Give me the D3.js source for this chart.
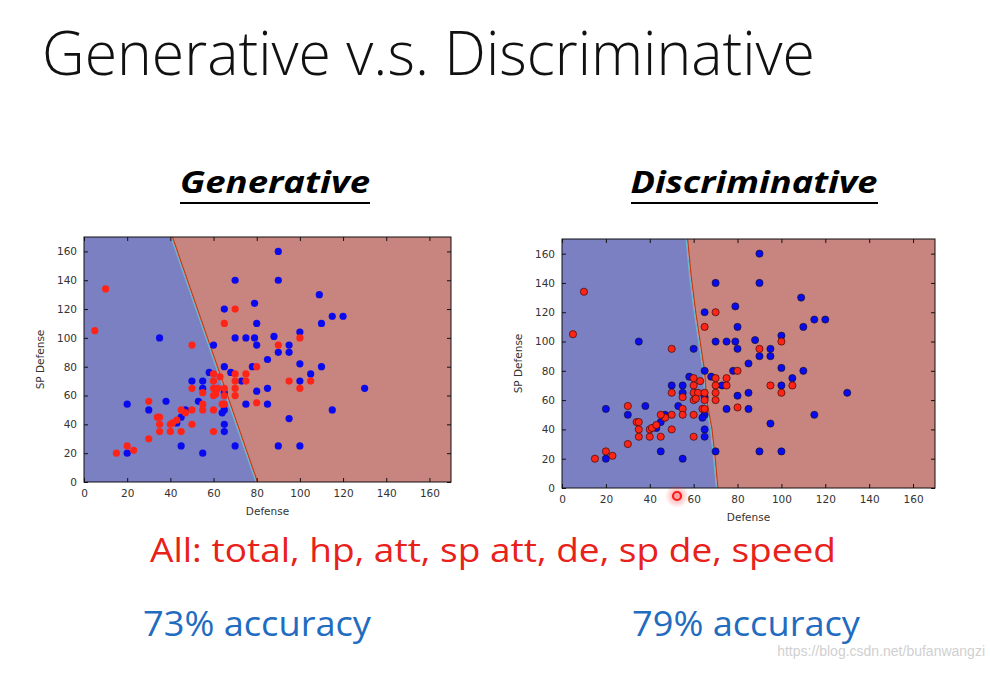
<!DOCTYPE html>
<html><head><meta charset="utf-8">
<script src="https://cdn.jsdelivr.net/npm/d3@7/dist/d3.min.js"></script>
<style>body{margin:0;background:#fff}svg{display:block}</style>
</head><body>
<svg id="c" width="990" height="673"></svg>
<script>
// ---- data ----
const tickValues = [0, 20, 40, 60, 80, 100, 120, 140, 160];
const redDefense =   [10,5,50,65,70,60,63,70,75,75,70,70,70,60,60,62,65,60,61,55,50,65,64,65,55,55,60,50,47,45,50,60,45,40,35,35,34,35,40,41,43,30,30,20,23,15,80,80,100,90,95,105,100];
const redSpDefense = [134,105,95,110,120,75,73,75,75,70,70,65,60,70,65,65,65,60,61,62,65,60,54,54,54,50,50,50,48,50,40,35,35,35,35,40,45,45,40,41,43,56,30,25,22,20,80,55,100,95,70,70,65];
const blueDefense =   [90,70,90,109,79,115,120,80,110,100,70,75,79,88,80,95,90,95,85,78,100,110,105,58,68,73,100,85,130,80,75,85,115,95,70,90,100,65,35,60,65,50,55,55,65,53,38,20,30,47,45,43,65,64,65,65,45,55,20];
const blueSpDefense = [160,140,140,130,124,115,115,110,110,104,100,100,100,101,95,95,90,90,85,80,82,80,75,76,76,70,70,65,65,63,54,54,50,44,25,25,25,120,100,95,80,70,70,65,62,56,56,54,50,50,45,41,50,48,40,35,25,20,20];
const genBoundaryDefense =   [40.6, 80];
const genBoundarySpDefense = [170, 0];
const discBoundaryDefense =   [56.9, 58.5, 60.6, 62.6, 64.6, 65.6, 68, 69.5, 70.7];
const discBoundarySpDefense = [170, 145, 120, 100, 80, 60, 40, 20, 0];
const panelTitles = ["Generative", "Discriminative"];
const accuracies = ["73% accuracy", "79% accuracy"];

const svg = d3.select("#c");
svg.append("rect").attr("width",990).attr("height",673).attr("fill","#fff");

// main title
svg.append("text").attr("x",42).attr("y",75)
  .attr("font-family","'Open Sans', sans-serif").attr("font-weight",300)
  .attr("font-size",60).attr("fill","#111")
  .attr("textLength",773).attr("lengthAdjust","spacingAndGlyphs")
  .text("Generative v.s. Discriminative");

const panels = [
  {x0:84, x1:451, y0:482, y1:237, title:panelTitles[0], tx:275, tw:190, ul:[180,370], bx:genBoundaryDefense, by:genBoundarySpDefense, edge:false, acc:accuracies[0], ax:143, aw:228},
  {x0:562, x1:935, y0:488, y1:239, title:panelTitles[1], tx:754, tw:247, ul:[631,878], bx:discBoundaryDefense, by:discBoundarySpDefense, edge:true, acc:accuracies[1], ax:632, aw:228}
];

panels.forEach((p,i) => {
  const x = d3.scaleLinear().domain([0,170]).range([p.x0,p.x1]);
  const y = d3.scaleLinear().domain([0,170]).range([p.y0,p.y1]);
  const g = svg.append("g");

  // panel title
  g.append("text").attr("x",p.tx).attr("y",193).attr("text-anchor","middle")
    .attr("font-family","'Open Sans', sans-serif").attr("font-weight",700).attr("font-style","italic")
    .attr("font-size",31).attr("fill","#000")
    .attr("textLength",p.tw).attr("lengthAdjust","spacingAndGlyphs").text(p.title);
  g.append("line").attr("x1",p.ul[0]).attr("x2",p.ul[1]).attr("y1",203).attr("y2",203)
    .attr("stroke","#000").attr("stroke-width",2.2);

  // regions
  const bpts = p.bx.map((d,k)=>[x(d), y(p.by[k])]);
  const blue = [[x(0),y(170)], ...bpts, [x(0),y(0)]];
  const red = [...bpts, [x(170),y(0)], [x(170),y(170)]];
  g.append("path").attr("d", d3.line()(blue)+"Z").attr("fill","#7b80c3");
  g.append("path").attr("d", d3.line()(red)+"Z").attr("fill","#c8847f");
  // boundary contour lines
  g.append("path").attr("d", d3.line()(bpts.map(q=>[q[0]-0.8,q[1]]))).attr("fill","none").attr("stroke","#5fc8d0").attr("stroke-width",0.9);
  g.append("path").attr("d", d3.line()(bpts.map(q=>[q[0]+0.8,q[1]]))).attr("fill","none").attr("stroke","#c23a10").attr("stroke-width",1.1);

  // points
  const pts = g.append("g");
  blueDefense.forEach((d,k)=>{
    pts.append("circle").attr("cx",x(d)).attr("cy",y(blueSpDefense[k])).attr("r",3.6)
      .attr("fill","#0a0aee").attr("stroke",p.edge?"#111":"none").attr("stroke-width",0.6);
  });
  redDefense.forEach((d,k)=>{
    pts.append("circle").attr("cx",x(d)).attr("cy",y(redSpDefense[k])).attr("r",3.6)
      .attr("fill","#ff2418").attr("stroke",p.edge?"#3a0a05":"none").attr("stroke-width",0.7);
  });

  // frame
  g.append("rect").attr("x",p.x0).attr("y",p.y1).attr("width",p.x1-p.x0).attr("height",p.y0-p.y1)
    .attr("fill","none").attr("stroke","#111").attr("stroke-width",1);

  // axes with inward ticks on all sides
  const fs = 10.5;
  const axB = g.append("g").attr("transform",`translate(0,${p.y0})`)
    .call(d3.axisBottom(x).tickValues(tickValues).tickSizeInner(-4).tickSizeOuter(0).tickPadding(8));
  const axL = g.append("g").attr("transform",`translate(${p.x0},0)`)
    .call(d3.axisLeft(y).tickValues(tickValues).tickSizeInner(-4).tickSizeOuter(0).tickPadding(7));
  const axT = g.append("g").attr("transform",`translate(0,${p.y1})`)
    .call(d3.axisTop(x).tickValues(tickValues).tickSizeInner(-4).tickSizeOuter(0).tickFormat(""));
  const axR = g.append("g").attr("transform",`translate(${p.x1},0)`)
    .call(d3.axisRight(y).tickValues(tickValues).tickSizeInner(-4).tickSizeOuter(0).tickFormat(""));
  [axB,axL,axT,axR].forEach(a=>{
    a.select(".domain").remove();
    a.selectAll("line").attr("stroke","#111");
    a.selectAll("text").attr("font-family","'DejaVu Sans', sans-serif").attr("font-size",fs).attr("fill","#333");
  });

  // axis labels
  g.append("text").attr("x",(p.x0+p.x1)/2).attr("y",p.y0+33).attr("text-anchor","middle")
    .attr("font-family","'DejaVu Sans', sans-serif").attr("font-size",10.5).attr("fill","#333").text("Defense");
  g.append("text").attr("transform",`translate(${p.x0-40},${(p.y0+p.y1)/2}) rotate(-90)`)
    .attr("text-anchor","middle")
    .attr("font-family","'DejaVu Sans', sans-serif").attr("font-size",10.5).attr("fill","#333").text("SP Defense");

  // accuracy
  g.append("text").attr("x",p.ax).attr("y",636)
    .attr("font-family","'Open Sans', sans-serif").attr("font-size",35).attr("fill","#1f6cc0")
    .attr("textLength",p.aw).attr("lengthAdjust","spacingAndGlyphs").text(p.acc);
});

// features line
svg.append("text").attr("x",150).attr("y",562)
  .attr("font-family","'Open Sans', sans-serif").attr("font-size",32).attr("fill","#e8211a")
  .attr("textLength",686).attr("lengthAdjust","spacingAndGlyphs")
  .text("All: total, hp, att, sp att, de, sp de, speed");

// cursor highlight
const glow = svg.append("defs").append("radialGradient").attr("id","glow");
glow.append("stop").attr("offset","0%").attr("stop-color","#ff3030").attr("stop-opacity",0.5);
glow.append("stop").attr("offset","100%").attr("stop-color","#ff3030").attr("stop-opacity",0);
svg.append("circle").attr("cx",677).attr("cy",496).attr("r",12).attr("fill","url(#glow)");
svg.append("circle").attr("cx",677).attr("cy",496).attr("r",4).attr("fill","none").attr("stroke","#ff1a1a").attr("stroke-width",2.2);

// watermark
svg.append("text").attr("x",985).attr("y",656).attr("text-anchor","end")
  .attr("font-family","'Liberation Sans', sans-serif").attr("font-size",14).attr("fill","#d0d0d0")
  .text("https://blog.csdn.net/bufanwangzi");
</script>
</body></html>
